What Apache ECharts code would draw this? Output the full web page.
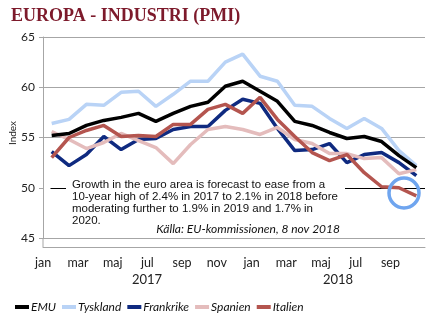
<!DOCTYPE html>
<html><head><meta charset="utf-8">
<script src="https://cdn.jsdelivr.net/npm/echarts@6/dist/echarts.min.js"></script>
<style>html,body{margin:0;padding:0;background:#fff}#c{width:446px;height:327px}</style>
</head><body><div id="c"></div>
<script>
const months = ['jan','feb','mar','apr','maj','jun','jul','aug','sep','okt','nov','dec','jan','feb','mar','apr','maj','jun','jul','aug','sep','okt'];
const yearLabels = ['2017','2018'];
const emu       = [55.2,55.4,56.2,56.7,57.0,57.4,56.6,57.4,58.1,58.5,60.1,60.6,59.6,58.6,56.6,56.2,55.5,54.9,55.1,54.6,53.2,52.0];
const tyskland  = [56.4,56.8,58.3,58.2,59.5,59.6,58.1,59.3,60.6,60.6,62.5,63.3,61.1,60.6,58.2,58.1,56.9,55.9,56.9,55.9,53.7,52.2];
const frankrike = [53.6,52.2,53.3,55.1,53.8,54.8,54.9,55.8,56.1,56.1,57.7,58.8,58.4,55.9,53.7,53.8,54.4,52.5,53.3,53.5,52.5,51.2];
const spanien   = [55.6,54.8,53.9,54.5,55.4,54.7,54.0,52.4,54.3,55.8,56.1,55.8,55.3,56.0,54.8,54.4,53.4,53.4,52.9,53.0,51.4,51.8];
const italien   = [53.0,55.0,55.7,56.2,55.1,55.2,55.1,56.3,56.3,57.8,58.3,57.4,59.0,56.8,55.1,53.5,52.7,53.3,51.5,50.1,50.0,49.2];
const seriesNames = ['EMU','Tyskland','Frankrike','Spanien','Italien'];
const yTicks = [45,50,55,60,65];

const colors = ['#000000','#b9d3f6','#0f2a80','#e4bcbc','#b4554f'];
const dataSets = [emu, tyskland, frankrike, spanien, italien];
const zs = [6,2,3,4,5];

const chart = echarts.init(document.getElementById('c'), null, {renderer:'canvas'});
const font = 'Lato, "Liberation Sans", sans-serif';
chart.setOption({
  animation:false,
  backgroundColor:'#fff',
  title:{text:'EUROPA - INDUSTRI (PMI)', left:6, top:2,
    textStyle:{fontFamily:'"Liberation Serif", serif', fontWeight:'bold', fontSize:18, color:'#7d1a2b'}},
  grid:{left:43, right:21, top:37, bottom:89},
  legend:{left:10, top:296, itemWidth:14, itemHeight:4, itemGap:6, icon:'rect',
    data:seriesNames,
    textStyle:{fontFamily:font, fontStyle:'italic', fontSize:12, color:'#111', padding:[0,0,0,-3]}},
  xAxis:{type:'category', data:months, boundaryGap:true, offset:9,
    axisLine:{lineStyle:{color:'#a6a6a6'}},
    axisTick:{interval:1, length:3, lineStyle:{color:'#a6a6a6'}},
    axisLabel:{interval:1, margin:9, fontFamily:font, fontSize:12.5, color:'#222', padding:[0,17,0,0]},
    splitLine:{show:false}},
  yAxis:{type:'value', min:yTicks[0], max:yTicks[yTicks.length-1], interval:5,
    axisLine:{show:true, lineStyle:{color:'#a6a6a6'}},
    axisTick:{show:true, length:4, lineStyle:{color:'#a6a6a6'}},
    axisLabel:{margin:8, fontFamily:font, fontSize:12, color:'#222'},
    splitLine:{lineStyle:{color:['#a6a6a6','#000000','#a6a6a6','#a6a6a6','#a6a6a6'], width:1}}},
  series: seriesNames.map((n,i)=>({
    name:n, type:'line', data:dataSets[i], symbol:'none', z:zs[i],
    lineStyle:{color:colors[i], width:3.5}, itemStyle:{color:colors[i]}
  })),
  graphic:[
    {type:'line', shape:{x1:43, y1:238, x2:43, y2:247}, style:{stroke:'#a6a6a6', lineWidth:1}, z:10},
    {type:'rect', shape:{x:44, y:185, width:6.5, height:6}, style:{fill:'#fff'}, z:100},
    {type:'rect', shape:{x:66, y:178, width:279, height:57}, style:{fill:'#fff'}, z:100},
    {type:'text', left:72, top:178.5, z:101, style:{
      text:'Growth in the euro area is forecast to ease from a\n10-year high of 2.4% in 2017 to 2.1% in 2018 before\nmoderating further to 1.9% in 2019 and 1.7% in\n2020.',
      font:'11.5px "Liberation Sans", Arial, sans-serif', fill:'#111', lineHeight:12}},
    {type:'text', z:101, x:340, y:229, style:{text:'Källa: EU-kommissionen, 8 nov 2018',
      font:'italic 12px Lato, "Liberation Sans", sans-serif', fill:'#111', textAlign:'right', textVerticalAlign:'middle'}},
    {type:'text', z:101, x:13, y:133, rotation:Math.PI/2, style:{text:'Index',
      font:'10px Lato, "Liberation Sans", sans-serif', fill:'#222', textAlign:'center', textVerticalAlign:'middle'}},
    {type:'text', z:101, x:147, y:280, style:{text:yearLabels[0],
      font:'13px Lato, "Liberation Sans", sans-serif', fill:'#222', textAlign:'center', textVerticalAlign:'middle'}},
    {type:'text', z:101, x:338, y:280, style:{text:yearLabels[1],
      font:'13px Lato, "Liberation Sans", sans-serif', fill:'#222', textAlign:'center', textVerticalAlign:'middle'}},
    {type:'circle', z:102, shape:{cx:404, cy:193, r:15}, style:{fill:'none', stroke:'#6fa5ef', lineWidth:3.5}}
  ]
});
</script></body></html>
